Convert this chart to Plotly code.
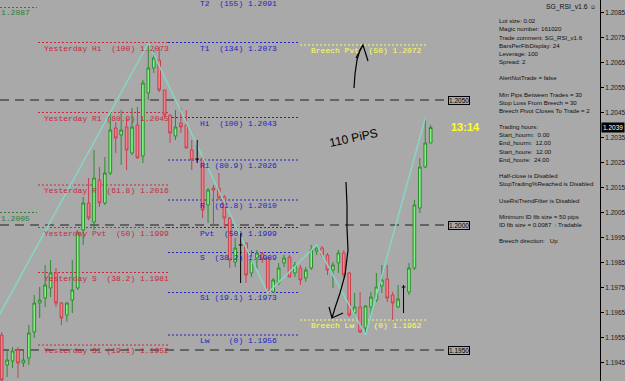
import plotly.graph_objects as go

# ---------------- data ----------------
candle_idx = list(range(1, 81))
open_ = [1.1956, 1.1944, 1.19456, 1.1950, 1.19448, 1.19468, 1.19572, 1.19688, 1.19708, 1.19748,
         1.19808, 1.19688, 1.1964, 1.1970, 1.19748, 1.1998, 1.20088, 1.20012, 1.2018, 1.20088,
         1.20208, 1.20388, 1.2036, 1.20392, 1.20288, 1.2040, 1.20276, 1.20528, 1.20628, 1.2066,
         1.2054, 1.2044, 1.20356, 1.20408, 1.2040, 1.2030, 1.20264, 1.20268, 1.2008, 1.20148,
         1.20148, 1.20112, 1.20028, 1.19852, 1.1992, 1.19928, 1.19808, 1.19868, 1.19884, 1.19868,
         1.19732, 1.19768, 1.19848, 1.19872, 1.19808, 1.19828, 1.19788, 1.19828, 1.19896, 1.19908,
         1.1988, 1.1982, 1.19848, 1.19888, 1.19808, 1.19648, 1.19672, 1.19588, 1.19672, 1.1970,
         1.19756, 1.19784, 1.1972, 1.19672, 1.19752, 1.19732, 1.19828, 1.20068, 1.20232, 1.20328]
high = [1.19572, 1.1950, 1.19512, 1.19512, 1.1950, 1.1960, 1.1972, 1.19752, 1.1984, 1.1986,
        1.19828, 1.19692, 1.19692, 1.1986, 1.1998, 1.20112, 1.20188, 1.2030, 1.20232, 1.20272,
        1.20452, 1.20412, 1.2046, 1.20428, 1.20468, 1.20472, 1.2058, 1.20728, 1.2070, 1.20712,
        1.2054, 1.2044, 1.2046, 1.20468, 1.2046, 1.2034, 1.2034, 1.2028, 1.20148, 1.2016,
        1.20208, 1.2012, 1.20032, 1.19948, 1.19968, 1.19928, 1.1990, 1.1990, 1.19892, 1.19872,
        1.19788, 1.19848, 1.1988, 1.1988, 1.19852, 1.1984, 1.19832, 1.1992, 1.1992, 1.19916,
        1.19888, 1.19852, 1.1990, 1.1990, 1.19812, 1.19728, 1.19732, 1.1968, 1.19732, 1.19808,
        1.1984, 1.1984, 1.19732, 1.1976, 1.1976, 1.19848, 1.2010, 1.20268, 1.20428, 1.2040]
low = [1.1934, 1.19392, 1.19428, 1.19388, 1.19432, 1.1944, 1.19548, 1.19628, 1.19672, 1.19712,
       1.19672, 1.1960, 1.19612, 1.19648, 1.1974, 1.1992, 1.2002, 1.1998, 1.20072, 1.2008,
       1.2020, 1.20288, 1.2024, 1.2022, 1.2028, 1.20268, 1.20248, 1.2050, 1.20608, 1.20532,
       1.20428, 1.20328, 1.2034, 1.20368, 1.20308, 1.2022, 1.20248, 1.20028, 1.20008, 1.2000,
       1.2010, 1.19992, 1.19828, 1.19832, 1.19768, 1.19768, 1.19792, 1.1982, 1.19848, 1.19728,
       1.19728, 1.1976, 1.19832, 1.19792, 1.19792, 1.1976, 1.19772, 1.1982, 1.1988, 1.19872,
       1.1980, 1.19748, 1.19808, 1.19788, 1.19632, 1.19632, 1.19568, 1.1956, 1.1964, 1.19692,
       1.19728, 1.19692, 1.1962, 1.19668, 1.19648, 1.1972, 1.1982, 1.20048, 1.20228, 1.20328]
close = [1.1938, 1.1946, 1.19496, 1.19448, 1.1946, 1.19568, 1.19688, 1.1970, 1.1976, 1.19808,
         1.19688, 1.19628, 1.19688, 1.1974, 1.19968, 1.20088, 1.20028, 1.20188, 1.20088, 1.20208,
         1.2038, 1.20348, 1.2038, 1.2030, 1.20392, 1.20268, 1.20568, 1.20628, 1.20668, 1.2054,
         1.2044, 1.20368, 1.20392, 1.20392, 1.20308, 1.2026, 1.20264, 1.2006, 1.2014, 1.2014,
         1.20108, 1.20028, 1.1986, 1.19908, 1.1992, 1.1980, 1.1986, 1.19888, 1.19864, 1.19732,
         1.1978, 1.19828, 1.19868, 1.19792, 1.1984, 1.1978, 1.1982, 1.1990, 1.19908, 1.1988,
         1.1982, 1.1984, 1.19888, 1.1980, 1.1964, 1.19672, 1.19572, 1.19676, 1.19712, 1.19752,
         1.1978, 1.19708, 1.19688, 1.19704, 1.19752, 1.19828, 1.2008, 1.20232, 1.20328, 1.2039]
doji_idx = [37, 45, 75]

zigzag_idx = [-5, 28, 50, 59, 68, 79]
zigzag_price = [1.1942, 1.20728, 1.19728, 1.1992, 1.1956, 1.20428]

yest_labels = ["Yesterday Hi  (100) 1.2073", "Yesterday R1 (80.9) 1.2045", "Yesterday R  (61.8) 1.2016",
               "Yesterday Pvt  (50) 1.1999", "Yesterday S  (38.2) 1.1981", "Yesterday S1 (19.1) 1.1952"]
yest_prices = [1.2073, 1.2045, 1.2016, 1.1999, 1.1981, 1.1952]

fib_labels = ["T2  (155) 1.2091", "T1  (134) 1.2073", "Hi  (100) 1.2043", "R1 (80.9) 1.2026",
              "R  (61.8) 1.2010", "Pvt  (50) 1.1999", "S  (38.2) 1.1989", "S1 (19.1) 1.1973",
              "Lw    (0) 1.1956"]
fib_prices = [1.2091, 1.2073, 1.2043, 1.2026, 1.2010, 1.1999, 1.1989, 1.1973, 1.1956]

breech_labels = ["Breech Pvt  (50) 1.2072", "Breech Lw    (0) 1.1962"]
breech_prices = [1.2072, 1.1962]

green_levels = [1.2087, 1.2005]
round_levels = [1.2050, 1.2000, 1.1950]
current_price = 1.2039
clock_text = "13:14"

info_lines = ["Lot size: 0.02", "Magic number: 161020", "Trade comment: SG_RSI_v1.6",
              "BarsPerFibDisplay: 24", "Leverage: 100", "Spread: 2", "",
              "AlertNotTrade = false", "",
              "Min Pips Between Trades = 30", "Stop Loss From Breech = 30",
              "Breech Pivot Closes To Trade = 2", "",
              "Trading hours:", "Start_hourm:  0.00", "End_hourm:  12.00",
              "Start_houre:  12.00", "End_houre:  24.00", "",
              "Half-close is Disabled", "StopTrading%Reached is Disabled", "",
              "UseRsiTrendFilter is Disabled", "",
              "Minimum ID fib size = 50 pips", "ID fib size = 0.0087  : Tradable", "",
              "Breech direction:   Up"]
title_text = "SG_RSI_v1.6 \u263a"

# ---------------- geometry helpers ----------------
W, H = 625, 381
PW = 600  # plot width in px
X0, X1 = 0.687, 111.18
Y0, Y1 = 1.19376, 1.2090


def xp(px):
    return px / PW


def yp_px(py):
    return 1 - py / H


def yp_price(p):
    return (p - Y0) / (Y1 - Y0)


def nb(s):
    return s.replace(" ", "\u00a0")


BG = "#a9a9a9"
RED = "#c8283f"
BLUE = "#2424c8"
YEL = "#ffff55"
GRN = "#2f7f2f"
PANEL_FONT = "Liberation Sans"

fig = go.Figure()

# zigzag
fig.add_trace(go.Scatter(x=zigzag_idx, y=zigzag_price, mode="lines",
                         line=dict(color="#86d6c6", width=1.5), hoverinfo="skip"))

# dojis as black crosses
dx, dy = [], []
for i in doji_idx:
    k = i - 1
    dx += [i, i, None, i - 0.35, i + 0.35, None]
    dy += [high[k], low[k], None, open_[k], close[k], None]
fig.add_trace(go.Scatter(x=dx, y=dy, mode="lines", line=dict(color="black", width=1),
                         hoverinfo="skip"))

# candles
keep = [j for j, i in enumerate(candle_idx) if i not in doji_idx]
fig.add_trace(go.Candlestick(
    x=[candle_idx[j] for j in keep],
    open=[open_[j] for j in keep], high=[high[j] for j in keep],
    low=[low[j] for j in keep], close=[close[j] for j in keep],
    increasing=dict(line=dict(color="#2e8a2e", width=1), fillcolor="#84f284"),
    decreasing=dict(line=dict(color="#c8404e", width=1), fillcolor="#f0808a"),
    whiskerwidth=0, hoverinfo="skip"))

shapes = []
annotations = []


def hline(p, x0px, x1px, color, dash, layer="below"):
    shapes.append(dict(type="line", xref="paper", yref="y", x0=xp(x0px), x1=xp(x1px),
                       y0=p, y1=p, line=dict(color=color, width=1, dash=dash), layer=layer))


def label(text, p, xpx, color, size=8, family="Liberation Mono"):
    annotations.append(dict(text=nb(text), xref="paper", yref="paper", x=xp(xpx), y=yp_price(p),
                            xanchor="left", yanchor="top", showarrow=False, borderpad=0,
                            font=dict(color=color, size=size, family=family)))


for p in round_levels:
    hline(p, 0, 448, "#1e1e1e", "9px,6px")
    annotations.append(dict(text=f"{p:.4f}", xref="paper", yref="y", x=xp(448), y=p,
                            xanchor="left", yanchor="middle", showarrow=False,
                            bordercolor="black", borderwidth=1, borderpad=0, bgcolor=BG,
                            font=dict(color="black", size=6.5, family=PANEL_FONT)))

for t, p in zip(yest_labels, yest_prices):
    hline(p, 38, 168, RED, "2px,2px")
    label(t, p, 43, RED)

for p in green_levels:
    hline(p, 0, 37, GRN, "2px,2px")
    label(f"{p:.4f}", p, 0, GRN)

for t, p in zip(fib_labels, fib_prices):
    hline(p, 168, 298, BLUE, "2px,2px")
    label(t, p, 199, BLUE)

for t, p in zip(breech_labels, breech_prices):
    hline(p, 300, 428, YEL, "2px,2px")
    label(t, p, 310, YEL)

# info panel
for k, line in enumerate(info_lines):
    if not line:
        continue
    annotations.append(dict(text=nb(line), xref="paper", yref="paper", x=xp(498),
                            y=yp_px(20.7 + k * 8.15), xanchor="left", yanchor="middle",
                            showarrow=False, borderpad=0,
                            font=dict(color="#111111", size=6.1, family=PANEL_FONT)))

annotations.append(dict(text=title_text, xref="paper", yref="paper", x=xp(597), y=yp_px(6.5),
                        xanchor="right", yanchor="middle", showarrow=False, borderpad=0,
                        font=dict(color="#111111", size=6.8, family=PANEL_FONT + ", DejaVu Sans")))

annotations.append(dict(text="<b>" + clock_text + "</b>", xref="paper", yref="paper", x=xp(450),
                        y=yp_px(127), xanchor="left", yanchor="middle", showarrow=False,
                        borderpad=0,
                        font=dict(color="#ffff22", size=11, family="Liberation Sans")))

annotations.append(dict(text=f"{current_price:.4f}", xref="paper", yref="y", x=xp(601),
                        y=current_price, xanchor="left", yanchor="middle", showarrow=False,
                        bgcolor="black", borderpad=1,
                        font=dict(color="white", size=6.5, family="Liberation Sans")))

annotations.append(dict(text="110 PiPS", xref="paper", yref="paper", x=xp(353), y=yp_px(138),
                        xanchor="center", yanchor="middle", showarrow=False, textangle=-12,
                        font=dict(color="black", size=12, family="Liberation Sans")))


def path_from(points):
    s = "M " + " L ".join(f"{xp(a):.5f},{yp_px(b):.5f}" for a, b in points)
    return s


pen = dict(color="black", width=1.2)
for pts in [
    [(354, 88), (355, 74), (357, 60), (360, 50), (363, 45)],
    [(356, 58), (363, 45), (368, 61)],
    [(346, 182), (347, 205), (347, 228), (348, 250), (345, 275), (340, 293), (335, 308), (332, 318)],
    [(329, 307), (332, 318), (343, 313)],
]:
    shapes.append(dict(type="path", xref="paper", yref="paper", path=path_from(pts),
                       line=pen, layer="above"))

fig.update_layout(
    width=W, height=H, margin=dict(l=0, r=W - PW, t=0, b=0),
    paper_bgcolor=BG, plot_bgcolor=BG, showlegend=False,
    shapes=shapes, annotations=annotations,
    xaxis=dict(range=[X0, X1], visible=False, rangeslider=dict(visible=False),
               showgrid=False, zeroline=False),
    yaxis=dict(range=[Y0, Y1], side="right", showline=True, linecolor="black", linewidth=1,
               ticks="outside", ticklen=3, tickcolor="black", tick0=1.1945, dtick=0.001,
               tickformat=".4f", showgrid=False, zeroline=False,
               tickfont=dict(size=6.5, color="#1a1a1a", family="Liberation Sans")),
)

fig.write_html("out.html")
